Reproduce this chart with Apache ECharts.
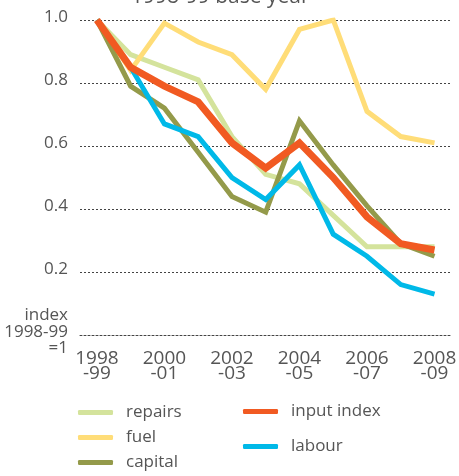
<!DOCTYPE html>
<html>
<head>
<meta charset="utf-8">
<script src="https://cdn.jsdelivr.net/npm/echarts@6/dist/echarts.min.js"></script>
<style>
html, body { margin: 0; padding: 0; background: #fff; }
#chart { width: 459px; height: 476px; }
</style>
</head>
<body>
<div id="chart"></div>
<script>
// years, 1998-99 = 1
var years = ['1998\n-99', '1999\n-00', '2000\n-01', '2001\n-02', '2002\n-03', '2003\n-04',
  '2004\n-05', '2005\n-06', '2006\n-07', '2007\n-08', '2008\n-09'];
var repairs = [1.0, 0.89, 0.85, 0.81, 0.63, 0.51, 0.48, 0.38, 0.28, 0.28, 0.28];
var fuel = [1.0, 0.84, 0.99, 0.93, 0.89, 0.78, 0.97, 1.0, 0.71, 0.63, 0.61];
var capital = [1.0, 0.79, 0.72, 0.58, 0.44, 0.39, 0.68, 0.54, 0.41, 0.29, 0.25];
var labour = [1.0, 0.85, 0.67, 0.63, 0.50, 0.43, 0.54, 0.32, 0.25, 0.16, 0.13];
var inputIndex = [1.0, 0.85, 0.79, 0.74, 0.61, 0.53, 0.61, 0.50, 0.375, 0.29, 0.27];

var font = '"Open Sans", "Noto Sans", sans-serif';
var grey = '#555';

function line(name, data, color, width) {
  return {
    name: name,
    type: 'line',
    data: data,
    symbol: 'none',
    lineStyle: { color: color, width: width, join: 'miter' },
    itemStyle: { color: color }
  };
}

var legendText = { fontFamily: font, fontSize: 17, color: grey, padding: [0, 0, 0, 8] };

var myChart = echarts.init(document.getElementById('chart'));
myChart.setOption({
  animation: false,
  title: {
    text: '1998-99 base year',
    left: 126,
    top: -18,
    textStyle: { fontFamily: font, fontSize: 21, fontWeight: 'normal', color: grey }
  },
  grid: { left: 80, right: 2, top: 20, bottom: 141 },
  legend: [{
    data: ['repairs', 'fuel', 'capital'],
    orient: 'vertical',
    left: 78,
    top: 404,
    padding: 0,
    itemWidth: 35,
    itemHeight: 5,
    itemGap: 8,
    icon: 'roundRect',
    textStyle: legendText
  }, {
    data: ['input index', 'labour'],
    orient: 'vertical',
    left: 243,
    top: 403,
    padding: 0,
    itemWidth: 35,
    itemHeight: 5,
    itemGap: 18,
    icon: 'roundRect',
    textStyle: legendText
  }],
  xAxis: {
    type: 'category',
    data: years,
    boundaryGap: true,
    axisLine: { lineStyle: { color: '#444', type: [2, 2], width: 1 } },
    axisTick: { alignWithLabel: true, interval: 0, length: 6, lineStyle: { color: grey } },
    axisLabel: {
      interval: 1,
      fontFamily: font,
      fontSize: 19,
      lineHeight: 15,
      color: grey,
      margin: 16
    }
  },
  yAxis: {
    type: 'value',
    min: 0,
    max: 1,
    interval: 0.2,
    axisLine: { show: false },
    axisTick: { show: false },
    splitLine: { lineStyle: { color: '#444', type: [2, 2], width: 1 } },
    axisLabel: {
      margin: 12,
      fontFamily: font,
      fontSize: 17,
      color: grey,
      lineHeight: 16.5,
      // a short empty line underneath lifts each label a few pixels
      formatter: function (v) {
        var t = v === 0 ? 'index\n1998-99\n=1' : v.toFixed(1);
        return t + '\n{s| }';
      },
      rich: { s: { fontSize: 4, lineHeight: 6 } }
    }
  },
  series: [
    line('repairs', repairs, '#d4e39c', 5),
    line('fuel', fuel, '#ffdd78', 5),
    line('capital', capital, '#949a4a', 5),
    line('labour', labour, '#00b9e8', 5),
    line('input index', inputIndex, '#f15a22', 7)
  ]
});
</script>
</body>
</html>
